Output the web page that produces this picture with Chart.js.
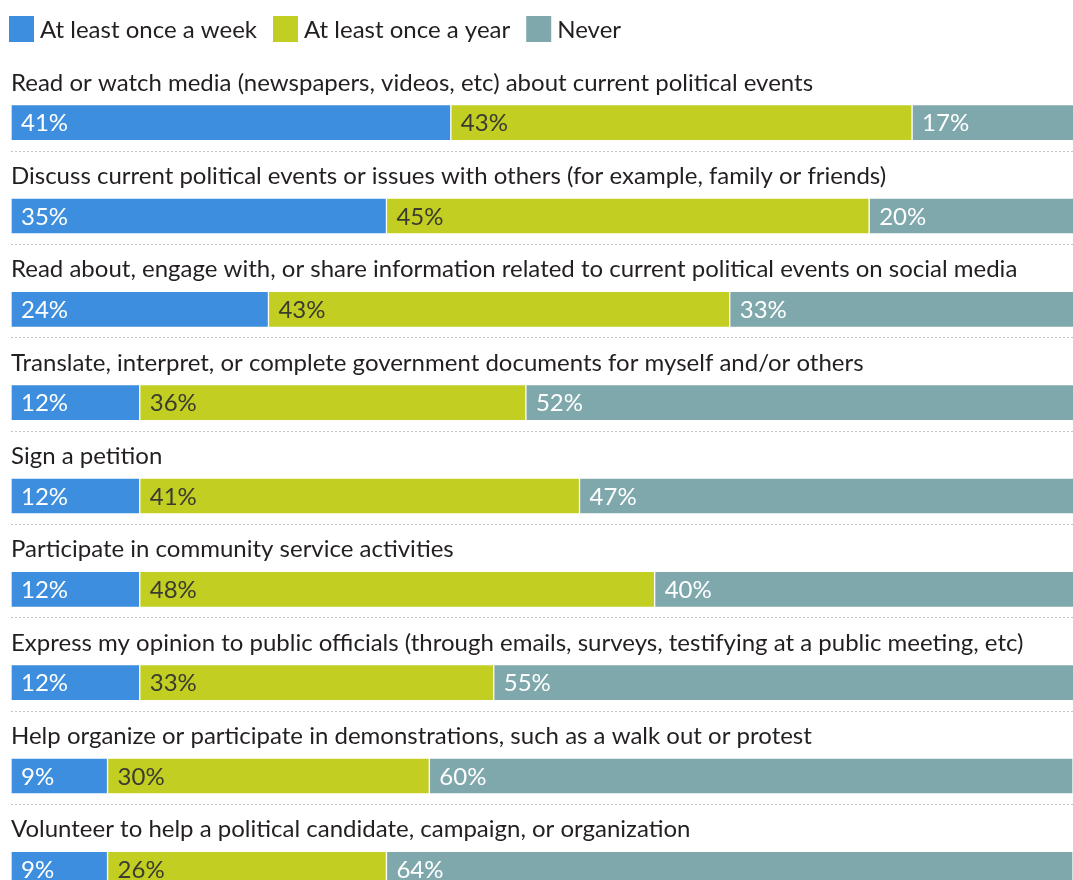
<!DOCTYPE html>
<html>
<head>
<meta charset="utf-8">
<script src="https://cdn.jsdelivr.net/npm/chart.js@4"></script>
<style>
  html, body { margin: 0; padding: 0; background: #fff; overflow: hidden; }
  #wrap { width: 1073px; height: 916px; }
  canvas { display: block; }
</style>
</head>
<body>
<div id="wrap"><canvas id="c" width="1073" height="916"></canvas></div>
<script>
const categories = [
  'Read or watch media (newspapers, videos, etc) about current political events',
  'Discuss current political events or issues with others (for example, family or friends)',
  'Read about, engage with, or share information related to current political events on social media',
  'Translate, interpret, or complete government documents for myself and/or others',
  'Sign a petition',
  'Participate in community service activities',
  'Express my opinion to public officials (through emails, surveys, testifying at a public meeting, etc)',
  'Help organize or participate in demonstrations, such as a walk out or protest',
  'Volunteer to help a political candidate, campaign, or organization'
];
const seriesNames = ['At least once a week', 'At least once a year', 'Never'];
const weekly = [41, 35, 24, 12, 12, 12, 12, 9, 9];
const yearly = [43, 45, 43, 36, 41, 48, 33, 30, 26];
const never  = [17, 20, 33, 52, 47, 40, 55, 60, 64];

const FONT = '24px Lato';
const colors = ['#3d8ede', '#c2cf22', '#7fa8ad'];
const labelColors = ['#ffffff', '#3b3b30', '#ffffff'];

const overlay = {
  id: 'overlay',
  afterDatasetsDraw(chart) {
    const ctx = chart.ctx;
    const area = chart.chartArea;
    ctx.save();
    const meta0 = chart.getDatasetMeta(0);
    meta0.data.forEach((bar, i) => {
      const top = bar.y - bar.height / 2;
      const bottom = bar.y + bar.height / 2;
      ctx.fillStyle = '#231f20';
      ctx.font = FONT;
      ctx.textBaseline = 'alphabetic';
      ctx.textAlign = 'left';
      ctx.fillText(chart.data.labels[i], 11, top - 14);
      ctx.strokeStyle = '#c4c4c4';
      ctx.lineWidth = 1;
      ctx.setLineDash([2, 2]);
      ctx.beginPath();
      ctx.moveTo(11, Math.round(bottom + 10) + 0.5);
      ctx.lineTo(area.right, Math.round(bottom + 10) + 0.5);
      ctx.stroke();
      ctx.setLineDash([]);
    });
    chart.data.datasets.forEach((ds, di) => {
      const meta = chart.getDatasetMeta(di);
      meta.data.forEach((bar, i) => {
        const left = Math.min(bar.base, bar.x);
        ctx.fillStyle = labelColors[di];
        ctx.font = FONT;
        ctx.textBaseline = 'alphabetic';
        ctx.textAlign = 'left';
        ctx.fillText(ds.data[i] + '%', left + 10, bar.y + 8.5);
      });
    });
    let x = 9;
    ctx.font = FONT;
    chart.data.datasets.forEach((ds, di) => {
      ctx.fillStyle = ds.backgroundColor;
      ctx.fillRect(x, 16, 25, 26);
      ctx.fillStyle = '#231f20';
      ctx.fillText(ds.label, x + 31, 37.5);
      x += 31 + ctx.measureText(ds.label).width + 16;
    });
    ctx.restore();
  }
};

new Chart(document.getElementById('c'), {
  type: 'bar',
  data: {
    labels: categories,
    datasets: [
      { label: seriesNames[0], data: weekly, backgroundColor: colors[0] },
      { label: seriesNames[1], data: yearly, backgroundColor: colors[1] },
      { label: seriesNames[2], data: never,  backgroundColor: colors[2] }
    ]
  },
  options: {
    indexAxis: 'y',
    responsive: false,
    animation: false,
    devicePixelRatio: 1,
    layout: { padding: { top: 76, left: 11, right: 0, bottom: 0 } },
    datasets: { bar: { barThickness: 36, borderWidth: 1, borderColor: 'rgba(255,255,255,0.55)', borderSkipped: false } },
    scales: {
      x: { stacked: true, min: 0, max: 99, display: false },
      y: { stacked: true, display: false }
    },
    plugins: { legend: { display: false }, tooltip: { enabled: false } }
  },
  plugins: [overlay]
});
</script>
</body>
</html>
